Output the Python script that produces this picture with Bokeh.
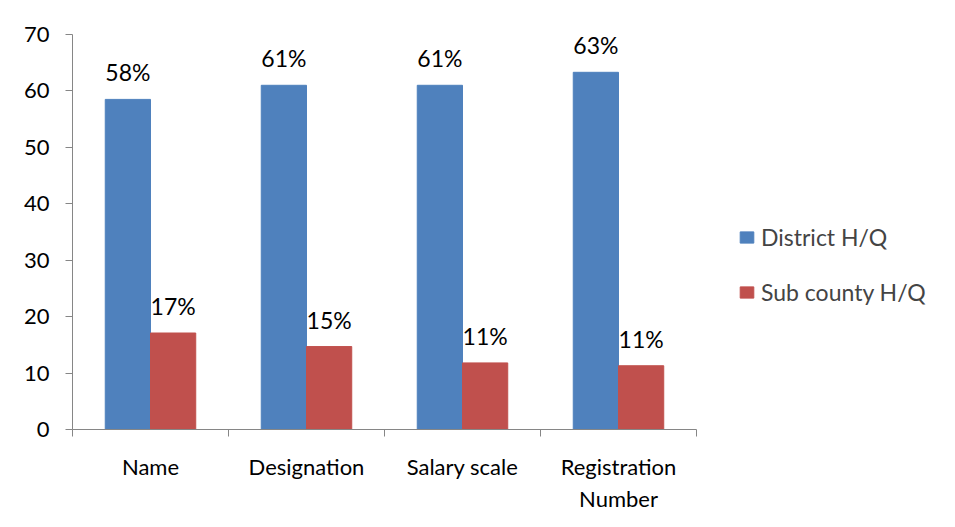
import numpy as np
from bokeh.plotting import figure
from bokeh.models import Range1d, FixedTicker, Legend, LegendItem, ColumnDataSource
from bokeh.embed import file_html
from bokeh.resources import INLINE
from bokeh.core.properties import value

categories = ["Name", "Designation", "Salary scale", "Registration\nNumber"]
district = [58.5, 61.0, 61.0, 63.3]
subcounty = [17.1, 14.7, 11.8, 11.3]
district_labels = ["58%", "61%", "61%", "63%"]
subcounty_labels = ["17%", "15%", "11%", "11%"]
y_ticks = [0, 10, 20, 30, 40, 50, 60, 70]

FONT = "Lato"
BLUE = "#4F81BD"
RED = "#C0504D"
AXIS = "#868686"

# layout: axis area is 624 px wide, frame extends to the right to hold the legend
LEFT, RIGHT_BORDER, W, H = 72, 15, 955, 527
AXIS_PX = 624
FRAME_PX = W - LEFT - RIGHT_BORDER
n = len(categories)
x_end = n * FRAME_PX / AXIS_PX

idx = np.arange(n) + 0.5
bw = 0.29

p = figure(width=W, height=H, output_backend="svg", toolbar_location=None,
           x_range=Range1d(0, x_end), y_range=Range1d(0, 70),
           min_border_left=LEFT, min_border_right=RIGHT_BORDER,
           min_border_top=34, min_border_bottom=98)
p.outline_line_color = None
p.xgrid.visible = False
p.ygrid.visible = False

src_d = ColumnDataSource(dict(x=idx - bw / 2, top=district, lab=district_labels))
src_s = ColumnDataSource(dict(x=idx + bw / 2, top=subcounty, lab=subcounty_labels))

r1 = p.vbar(x="x", top="top", width=bw, source=src_d, fill_color=BLUE, line_color=BLUE)
r2 = p.vbar(x="x", top="top", width=bw, source=src_s, fill_color=RED, line_color=RED)

for src in (src_d, src_s):
    p.text(x="x", y="top", text="lab", source=src, text_align="center",
           text_baseline="alphabetic", y_offset=-27, text_font=value(FONT),
           text_font_size="23px", text_color="#000000")

# y axis
ya = p.yaxis[0]
ya.ticker = FixedTicker(ticks=y_ticks)
ya.axis_line_color = AXIS
ya.major_tick_line_color = AXIS
ya.major_tick_out = 7
ya.major_tick_in = 0
ya.minor_tick_line_color = None
ya.major_label_text_font = FONT
ya.major_label_text_font_size = "22px"
ya.major_label_text_color = "#000000"
ya.major_label_standoff = 16

# x axis
xa = p.xaxis[0]
xa.bounds = (0, n)
xa.ticker = FixedTicker(ticks=list(idx), minor_ticks=list(range(n + 1)))
xa.major_label_overrides = {float(v): c for v, c in zip(idx, categories)}
xa.axis_line_color = AXIS
xa.major_tick_line_color = None
xa.major_tick_out = 0
xa.minor_tick_line_color = AXIS
xa.minor_tick_out = 7
xa.minor_tick_in = 0
xa.major_label_text_font = FONT
xa.major_label_text_font_size = "22px"
xa.major_label_text_color = "#000000"
xa.major_label_standoff = 16

legend = Legend(items=[LegendItem(label="District H/Q", renderers=[r1]),
                       LegendItem(label="Sub county H/Q", renderers=[r2])],
                label_text_font=FONT, label_text_font_size="23px",
                glyph_width=17, glyph_height=14, label_height=24, label_standoff=6,
                spacing=27, border_line_color=None, background_fill_alpha=0,
                location=(666, 123), padding=0, margin=0)
p.add_layout(legend, "center")

open("out.html", "w").write(file_html(p, INLINE))
